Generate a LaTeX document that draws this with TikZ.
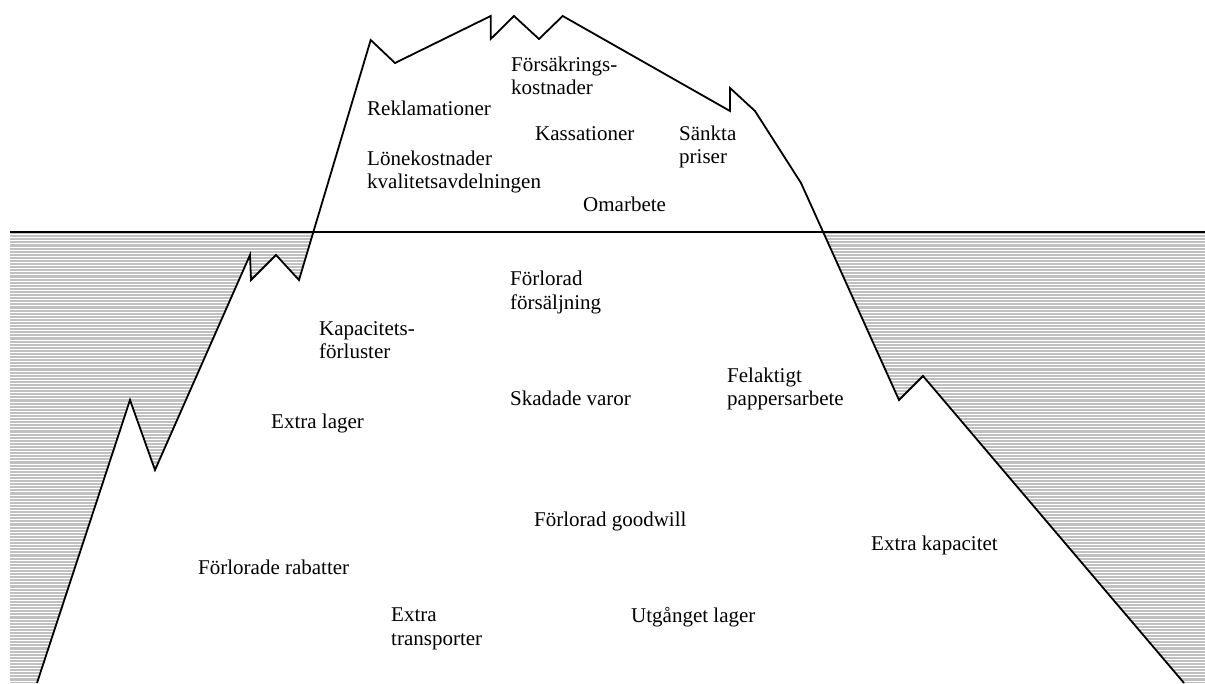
\documentclass[tikz,border=0pt]{standalone}
\usepackage{fontspec}
\setmainfont{Liberation Serif}
\begin{document}
\begin{tikzpicture}[x=1pt,y=-1pt,
  lbl/.style={anchor=base west,inner sep=0pt,font=\fontsize{21}{23.5}\selectfont},
  outline/.style={black,line width=1.8pt,line join=miter},
  waterline/.style={black,line width=1.8pt},
  stripe/.style={white,line width=1pt}]
\useasboundingbox (0,0) rectangle (1205,683);
% sea (hatched)
\fill[fill={rgb,255:red,192;green,192;blue,192}] (10,232) rectangle (1205,683);
\foreach \i in {0,...,145}{
  \draw[stripe] (10,{234.6+3.1*\i}) -- (1205,{234.6+3.1*\i});
}
% iceberg body
\fill[white] (37,683) -- (130,400) -- (155,470) -- (250,255) -- (251,280) -- (276,255) -- (299,280)
  -- (370.7,40) -- (395,63) -- (490.7,16) -- (490.7,39) -- (514,16) -- (539,39) -- (562.7,16)
  -- (730,111) -- (730,88) -- (755,111) -- (801,183) -- (899,400) -- (923,376) -- (1184,683) -- cycle;
\draw[waterline] (10,232) -- (1205,232);
\draw[outline] (37,683) -- (130,400) -- (155,470) -- (250,255) -- (251,280) -- (276,255) -- (299,280)
  -- (370.7,40) -- (395,63) -- (490.7,16) -- (490.7,39) -- (514,16) -- (539,39) -- (562.7,16)
  -- (730,111) -- (730,88) -- (755,111) -- (801,183) -- (899,400) -- (923,376) -- (1184,683);
% labels above water
\node[lbl] (fors1) at (511,71.5) {Försäkrings-};
\node[lbl] (fors2) at (511,94.5) {kostnader};
\node[lbl] (rekl) at (367,115) {Reklamationer};
\node[lbl] (kass) at (535,140) {Kassationer};
\node[lbl] (sank1) at (679,140) {Sänkta};
\node[lbl] (sank2) at (679,163) {priser};
\node[lbl] (lone1) at (367,165) {Lönekostnader};
\node[lbl] (lone2) at (367,188.3) {kvalitetsavdelningen};
\node[lbl] (omar) at (583,211.5) {Omarbete};
% labels below water
\node[lbl] (forl1) at (510,285) {Förlorad};
\node[lbl] (forl2) at (510,309) {försäljning};
\node[lbl] (kap1) at (319,335) {Kapacitets-};
\node[lbl] (kap2) at (319,358) {förluster};
\node[lbl] (fel1) at (727,382) {Felaktigt};
\node[lbl] (fel2) at (727,405) {pappersarbete};
\node[lbl] (skad) at (510,405) {Skadade varor};
\node[lbl] (exlag) at (271,428) {Extra lager};
\node[lbl] (good) at (534,526) {Förlorad goodwill};
\node[lbl] (exkap) at (871,550) {Extra kapacitet};
\node[lbl] (rab) at (198,574) {Förlorade rabatter};
\node[lbl] (extr1) at (391,621) {Extra};
\node[lbl] (extr2) at (391,645) {transporter};
\node[lbl] (utg) at (631,622) {Utgånget lager};
\end{tikzpicture}
\end{document}
